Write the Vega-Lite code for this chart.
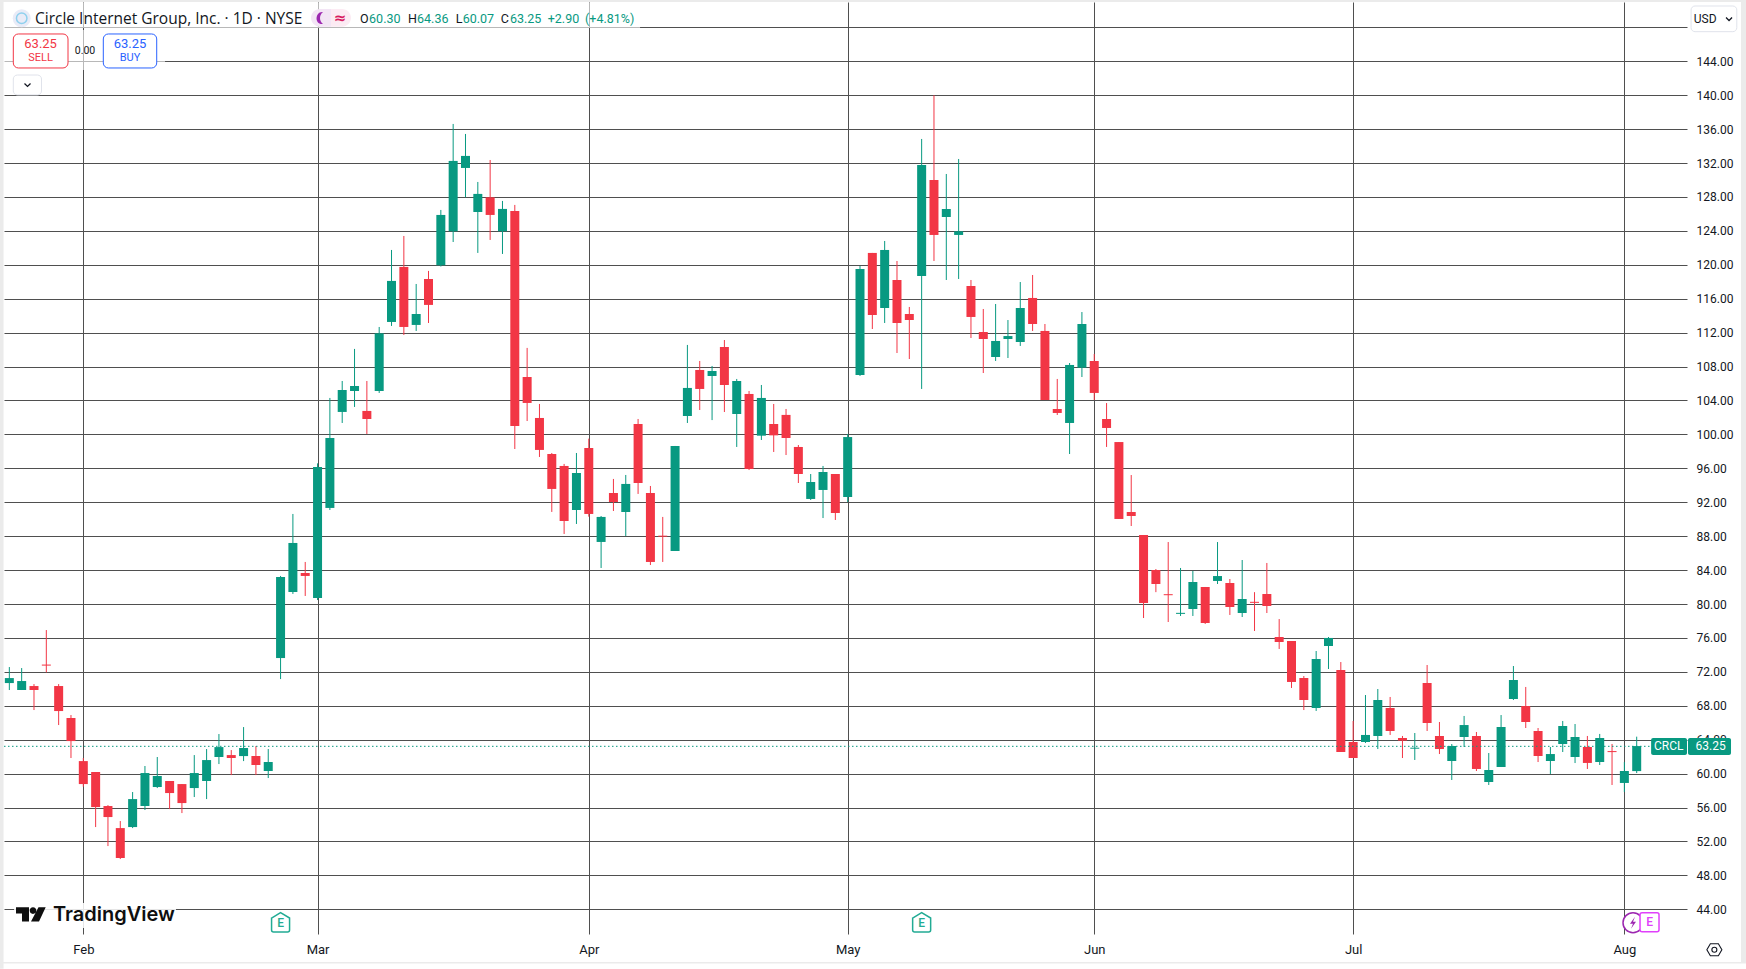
{
  "$schema": "https://vega.github.io/schema/vega-lite/v6.json",
  "description": "Circle Internet Group daily candles on NYSE",
  "width": 1683,
  "height": 932,
  "padding": {"left": 4, "top": 2, "right": 59, "bottom": 35},
  "autosize": "none",
  "background": "white",
  "view": {"stroke": null},
  "datasets": {
    "candles": [
      {"bar":-6,"open":70.68,"high":72.57,"low":69.86,"close":71.27},
      {"bar":-5,"open":69.86,"high":72.45,"low":69.86,"close":70.92},
      {"bar":-4,"open":70.33,"high":70.56,"low":67.5,"close":69.86},
      {"bar":-3,"open":72.86,"high":76.93,"low":71.94,"close":72.74},
      {"bar":-2,"open":70.33,"high":70.56,"low":65.73,"close":67.38},
      {"bar":-1,"open":66.56,"high":66.91,"low":61.84,"close":63.84},
      {"bar":0,"open":61.48,"high":61.84,"low":58.46,"close":58.77},
      {"bar":1,"open":60.19,"high":60.19,"low":53.7,"close":56.06},
      {"bar":2,"open":56.18,"high":56.29,"low":51.46,"close":54.88},
      {"bar":3,"open":53.58,"high":54.41,"low":49.93,"close":50.05},
      {"bar":4,"open":53.7,"high":57.83,"low":53.58,"close":57.0},
      {"bar":5,"open":56.18,"high":60.9,"low":55.71,"close":60.07},
      {"bar":6,"open":58.42,"high":61.96,"low":58.3,"close":59.72},
      {"bar":7,"open":59.13,"high":59.13,"low":55.82,"close":57.71},
      {"bar":8,"open":58.77,"high":58.77,"low":55.35,"close":56.53},
      {"bar":9,"open":58.3,"high":62.19,"low":57.24,"close":60.07},
      {"bar":10,"open":59.13,"high":62.9,"low":57.0,"close":61.6},
      {"bar":11,"open":61.96,"high":64.67,"low":61.13,"close":63.13},
      {"bar":12,"open":62.19,"high":62.78,"low":59.83,"close":61.84},
      {"bar":13,"open":62.07,"high":65.49,"low":61.48,"close":63.02},
      {"bar":14,"open":62.07,"high":63.25,"low":59.83,"close":61.01},
      {"bar":15,"open":60.31,"high":62.9,"low":59.48,"close":61.37},
      {"bar":16,"open":73.63,"high":83.31,"low":71.15,"close":83.19},
      {"bar":17,"open":81.42,"high":90.62,"low":81.19,"close":87.2},
      {"bar":18,"open":83.66,"high":84.96,"low":80.95,"close":83.31},
      {"bar":19,"open":80.71,"high":96.59,"low":80.47,"close":96.16},
      {"bar":20,"open":91.33,"high":104.3,"low":91.09,"close":99.58},
      {"bar":21,"open":102.65,"high":106.3,"low":101.35,"close":105.24},
      {"bar":22,"open":105.12,"high":110.08,"low":103.24,"close":105.71},
      {"bar":23,"open":102.77,"high":106.3,"low":100.05,"close":101.82},
      {"bar":24,"open":105.12,"high":112.67,"low":104.89,"close":111.92},
      {"bar":25,"open":113.26,"high":121.75,"low":112.79,"close":118.1},
      {"bar":26,"open":119.75,"high":123.4,"low":111.73,"close":112.67},
      {"bar":27,"open":112.91,"high":117.74,"low":112.2,"close":114.2},
      {"bar":28,"open":118.33,"high":119.28,"low":113.14,"close":115.27},
      {"bar":29,"open":119.94,"high":126.47,"low":119.8,"close":125.88},
      {"bar":30,"open":123.95,"high":136.61,"low":122.69,"close":132.25},
      {"bar":31,"open":131.42,"high":135.43,"low":127.96,"close":132.84},
      {"bar":32,"open":126.23,"high":129.77,"low":121.4,"close":128.36},
      {"bar":33,"open":127.96,"high":132.36,"low":122.93,"close":125.88},
      {"bar":34,"open":123.95,"high":127.53,"low":121.28,"close":126.59},
      {"bar":35,"open":126.35,"high":127.06,"low":98.28,"close":100.98},
      {"bar":36,"open":106.77,"high":110.2,"low":101.58,"close":103.71},
      {"bar":37,"open":101.94,"high":103.59,"low":97.34,"close":98.17},
      {"bar":38,"open":97.69,"high":97.81,"low":90.86,"close":93.57},
      {"bar":39,"open":96.28,"high":96.52,"low":88.26,"close":89.79},
      {"bar":40,"open":91.09,"high":97.81,"low":89.44,"close":95.45},
      {"bar":41,"open":98.4,"high":99.5,"low":90.3,"close":90.62},
      {"bar":42,"open":87.32,"high":90.38,"low":84.25,"close":90.27},
      {"bar":43,"open":93.09,"high":94.75,"low":90.97,"close":92.03},
      {"bar":44,"open":90.85,"high":95.22,"low":88.02,"close":94.16},
      {"bar":45,"open":101.23,"high":101.82,"low":92.98,"close":94.27},
      {"bar":46,"open":93.09,"high":93.92,"low":84.6,"close":84.96},
      {"bar":47,"open":88.06,"high":90.27,"low":84.96,"close":87.94},
      {"bar":48,"open":86.26,"high":98.64,"low":86.26,"close":98.64},
      {"bar":49,"open":102.17,"high":110.55,"low":101.35,"close":105.48},
      {"bar":50,"open":107.6,"high":108.66,"low":102.88,"close":105.36},
      {"bar":51,"open":106.89,"high":108.07,"low":101.69,"close":107.48},
      {"bar":52,"open":110.31,"high":111.13,"low":102.64,"close":105.83},
      {"bar":53,"open":102.41,"high":106.54,"low":98.52,"close":106.3},
      {"bar":54,"open":104.77,"high":105.12,"low":95.8,"close":95.92},
      {"bar":55,"open":99.85,"high":105.83,"low":99.34,"close":104.3},
      {"bar":56,"open":101.23,"high":103.59,"low":97.93,"close":99.89},
      {"bar":57,"open":102.3,"high":103.0,"low":97.57,"close":99.58},
      {"bar":58,"open":98.52,"high":98.75,"low":94.27,"close":95.33},
      {"bar":59,"open":92.39,"high":95.33,"low":92.27,"close":94.39},
      {"bar":60,"open":93.45,"high":96.28,"low":90.14,"close":95.57},
      {"bar":61,"open":95.33,"high":95.33,"low":89.91,"close":90.73},
      {"bar":62,"open":92.62,"high":100.05,"low":92.03,"close":99.69},
      {"bar":63,"open":107.0,"high":119.86,"low":106.89,"close":119.51},
      {"bar":64,"open":121.4,"high":121.4,"low":112.43,"close":114.08},
      {"bar":65,"open":114.91,"high":122.81,"low":113.14,"close":121.75},
      {"bar":66,"open":118.21,"high":120.45,"low":109.6,"close":113.14},
      {"bar":67,"open":114.2,"high":115.03,"low":108.89,"close":113.49},
      {"bar":68,"open":118.68,"high":134.84,"low":105.36,"close":131.77},
      {"bar":69,"open":130.0,"high":139.99,"low":120.45,"close":123.52},
      {"bar":70,"open":125.64,"high":130.71,"low":118.21,"close":126.58},
      {"bar":71,"open":123.52,"high":132.48,"low":118.33,"close":123.95},
      {"bar":72,"open":117.5,"high":118.21,"low":111.37,"close":113.85},
      {"bar":73,"open":112.08,"high":114.79,"low":107.24,"close":111.25},
      {"bar":74,"open":109.13,"high":115.38,"low":108.66,"close":111.02},
      {"bar":75,"open":111.25,"high":113.49,"low":109.01,"close":111.6},
      {"bar":76,"open":110.9,"high":117.97,"low":110.43,"close":114.91},
      {"bar":77,"open":116.09,"high":118.8,"low":112.2,"close":113.02},
      {"bar":78,"open":112.2,"high":113.02,"low":104.06,"close":104.06},
      {"bar":79,"open":103.0,"high":106.54,"low":102.29,"close":102.53},
      {"bar":80,"open":101.35,"high":108.42,"low":97.69,"close":108.19},
      {"bar":81,"open":107.87,"high":114.43,"low":106.77,"close":113.02},
      {"bar":82,"open":108.66,"high":109.48,"low":104.06,"close":104.89},
      {"bar":83,"open":101.82,"high":103.7,"low":98.52,"close":100.76},
      {"bar":84,"open":99.1,"high":99.1,"low":90.03,"close":90.03},
      {"bar":85,"open":90.85,"high":95.21,"low":89.2,"close":90.38},
      {"bar":86,"open":88.14,"high":88.14,"low":78.35,"close":80.12},
      {"bar":87,"open":84.01,"high":84.13,"low":81.4,"close":82.36},
      {"bar":88,"open":81.16,"high":87.31,"low":77.88,"close":81.04},
      {"bar":89,"open":78.84,"high":84.25,"low":78.59,"close":78.96},
      {"bar":90,"open":79.41,"high":83.9,"low":78.59,"close":82.6},
      {"bar":91,"open":82.01,"high":82.01,"low":77.65,"close":77.76},
      {"bar":92,"open":82.72,"high":87.31,"low":82.36,"close":83.3},
      {"bar":93,"open":82.48,"high":82.95,"low":78.71,"close":79.65},
      {"bar":94,"open":78.94,"high":85.19,"low":78.47,"close":80.59},
      {"bar":95,"open":80.26,"high":81.4,"low":76.82,"close":80.14},
      {"bar":96,"open":81.18,"high":84.84,"low":78.94,"close":79.77},
      {"bar":97,"open":76.11,"high":78.23,"low":74.7,"close":75.52},
      {"bar":98,"open":75.64,"high":75.64,"low":70.1,"close":70.81},
      {"bar":99,"open":71.28,"high":71.51,"low":67.5,"close":68.68},
      {"bar":100,"open":67.74,"high":74.46,"low":67.39,"close":73.52},
      {"bar":101,"open":75.05,"high":76.11,"low":72.34,"close":76.0},
      {"bar":102,"open":72.22,"high":73.16,"low":62.55,"close":62.55},
      {"bar":103,"open":63.73,"high":66.21,"low":61.84,"close":61.84},
      {"bar":104,"open":63.73,"high":69.27,"low":63.61,"close":64.56},
      {"bar":105,"open":64.44,"high":69.98,"low":62.9,"close":68.68},
      {"bar":106,"open":67.74,"high":69.04,"low":64.56,"close":65.03},
      {"bar":107,"open":64.2,"high":64.44,"low":61.84,"close":63.89},
      {"bar":108,"open":62.94,"high":64.79,"low":61.61,"close":63.06},
      {"bar":109,"open":70.69,"high":72.81,"low":65.03,"close":65.97},
      {"bar":110,"open":64.44,"high":66.09,"low":62.31,"close":62.9},
      {"bar":111,"open":61.49,"high":63.49,"low":59.25,"close":63.26},
      {"bar":112,"open":64.32,"high":66.8,"low":63.14,"close":65.73},
      {"bar":113,"open":64.44,"high":64.91,"low":60.31,"close":60.55},
      {"bar":114,"open":59.01,"high":62.43,"low":58.66,"close":60.43},
      {"bar":115,"open":60.78,"high":66.91,"low":60.78,"close":65.5},
      {"bar":116,"open":68.8,"high":72.69,"low":68.68,"close":71.04},
      {"bar":117,"open":67.97,"high":70.22,"low":65.38,"close":66.09},
      {"bar":118,"open":65.03,"high":65.38,"low":61.37,"close":62.08},
      {"bar":119,"open":61.49,"high":63.14,"low":59.96,"close":62.31},
      {"bar":120,"open":63.49,"high":66.21,"low":62.55,"close":65.62},
      {"bar":121,"open":61.96,"high":65.85,"low":61.25,"close":64.32},
      {"bar":122,"open":63.14,"high":64.44,"low":60.55,"close":61.26},
      {"bar":123,"open":61.37,"high":64.68,"low":61.02,"close":64.2},
      {"bar":124,"open":62.66,"high":63.5,"low":58.66,"close":62.54},
      {"bar":125,"open":58.9,"high":61.37,"low":57.84,"close":60.31},
      {"bar":126,"open":60.3,"high":64.36,"low":60.07,"close":63.25}
    ]
  },
  "encoding": {
    "x": {
      "field": "bar",
      "type": "quantitative",
      "scale": {"domain": [-6.433, 130.08], "nice": false, "zero": false, "padding": 0},
      "axis": {
        "title": null,
        "values": [0, 19, 41, 62, 82, 103, 125],
        "labelExpr": "datum.value==0?'Feb':datum.value==19?'Mar':datum.value==41?'Apr':datum.value==62?'May':datum.value==82?'Jun':datum.value==103?'Jul':'Aug'",
        "grid": true,
        "gridColor": "#4f4f4f",
        "gridWidth": 1,
        "ticks": false,
        "domain": false,
        "labelPadding": 9,
        "labelFont": "Roboto",
        "labelFontSize": 13,
        "labelColor": "#131722"
      }
    },
    "y": {
      "field": "price",
      "type": "quantitative",
      "scale": {"domain": [41.09, 150.99], "nice": false, "zero": false},
      "axis": {
        "title": null,
        "orient": "right",
        "values": [44,48,52,56,60,64,68,72,76,80,84,88,92,96,100,104,108,112,116,120,124,128,132,136,140,144,148],
        "labelExpr": "datum.value==148?'':format(datum.value,'.2f')",
        "grid": true,
        "gridColor": "#4f4f4f",
        "gridWidth": 1,
        "ticks": false,
        "domain": false,
        "labelPadding": 9,
        "labelFont": "Roboto",
        "labelFontSize": 12,
        "labelColor": "#131722"
      }
    }
  },
  "layer": [
    {
      "data": {"values": [
        {"bar": -6.757, "bar2": -6.47, "price": 37.0, "price2": 151.23},
        {"bar": -6.757, "bar2": 134.87, "price": 150.99, "price2": 151.23},
        {"bar": 134.46, "bar2": 134.87, "price": 37.79, "price2": 151.23},
        {"bar": -6.757, "bar2": 134.87, "price": 37.6, "price2": 37.79}
      ]},
      "mark": {"type": "rect", "fill": "#ebebeb", "clip": false},
      "encoding": {"x2": {"field": "bar2"}, "y2": {"field": "price2"}}
    },
    {
      "data": {"name": "candles"},
      "mark": {"type": "rule", "strokeWidth": 1},
      "encoding": {
        "y": {"field": "low", "type": "quantitative"},
        "y2": {"field": "high"},
        "color": {"condition": {"test": "datum.close>=datum.open", "value": "#089981"}, "value": "#f23645"}
      }
    },
    {
      "data": {"name": "candles"},
      "mark": {"type": "bar", "orient": "vertical", "size": 9},
      "encoding": {
        "y": {"field": "open", "type": "quantitative"},
        "y2": {"field": "close"},
        "color": {"condition": {"test": "datum.close>=datum.open", "value": "#089981"}, "value": "#f23645"}
      }
    },
    {
      "data": {"values": [{"bar": -6.433, "bar2": 127.17, "price": 63.22}]},
      "mark": {"type": "rule", "color": "#089981", "strokeWidth": 1, "strokeDash": [1.5, 2.5]},
      "encoding": {"x2": {"field": "bar2"}}
    },
    {
      "data": {"values": [
        {"bar": -6.433, "bar2": 45.16, "price": 147.93, "price2": 150.87},
        {"bar": -6.433, "bar2": 6.63, "price": 142.97, "price2": 147.69}
      ]},
      "mark": {"type": "rect", "fill": "white", "opacity": 0.6},
      "encoding": {"x2": {"field": "bar2"}, "y2": {"field": "price2"}}
    },
    {
      "data": {"values": [{"bar": -5.62, "bar2": 7.52, "price": 41.8, "price2": 44.75}]},
      "mark": {"type": "rect", "fill": "white", "opacity": 0.85},
      "encoding": {"x2": {"field": "bar2"}, "y2": {"field": "price2"}}
    },
    {
      "data": {"values": [{"bar": -5.678, "bar2": -1.241, "price": 143.21, "price2": 147.22}]},
      "mark": {"type": "rect", "fill": "white", "stroke": "#f23645", "strokeWidth": 1, "cornerRadius": 5},
      "encoding": {"x2": {"field": "bar2"}, "y2": {"field": "price2"}}
    },
    {
      "data": {"values": [{"bar": 1.622, "bar2": 5.954, "price": 143.21, "price2": 147.22}]},
      "mark": {"type": "rect", "fill": "white", "stroke": "#2962ff", "strokeWidth": 1, "cornerRadius": 5},
      "encoding": {"x2": {"field": "bar2"}, "y2": {"field": "price2"}}
    },
    {
      "data": {"values": [
        {"bar": -5.678, "bar2": -3.391, "price": 140.03, "price2": 142.38},
        {"bar": 130.41, "bar2": 134.12, "price": 147.49, "price2": 150.52}
      ]},
      "mark": {"type": "rect", "fill": "white", "stroke": "#e0e3eb", "strokeWidth": 1, "cornerRadius": 4},
      "encoding": {"x2": {"field": "bar2"}, "y2": {"field": "price2"}}
    },
    {
      "data": {"values": [{"bar": 18.47, "bar2": 20.09, "price": 148.08, "price2": 150.17}]},
      "mark": {"type": "rect", "fill": "#f3e5f5", "cornerRadiusTopLeft": 9, "cornerRadiusBottomLeft": 9},
      "encoding": {"x2": {"field": "bar2"}, "y2": {"field": "price2"}}
    },
    {
      "data": {"values": [{"bar": 20.09, "bar2": 21.71, "price": 148.08, "price2": 150.17}]},
      "mark": {"type": "rect", "fill": "#fcebf3", "cornerRadiusTopRight": 9, "cornerRadiusBottomRight": 9},
      "encoding": {"x2": {"field": "bar2"}, "y2": {"field": "price2"}}
    },
    {
      "data": {"values": [{"bar": 127.17, "bar2": 130.08, "price": 62.2, "price2": 64.2}, {"bar": 130.16, "bar2": 133.65, "price": 62.2, "price2": 64.2}]},
      "mark": {"type": "rect", "fill": "#089981", "cornerRadius": 2},
      "encoding": {"x2": {"field": "bar2"}, "y2": {"field": "price2"}}
    },
    {
      "data": {"values": [{"bar": -4.997, "price": 149.07}]},
      "mark": {"type": "point", "shape": "circle", "size": 324, "filled": true, "color": "#e9ebf7", "opacity": 1}
    },
    {
      "data": {"values": [{"bar": -4.997, "price": 149.07}]},
      "mark": {"type": "point", "shape": "circle", "size": 110, "filled": false, "color": "#8fd0ee", "strokeWidth": 1.5, "opacity": 1}
    },
    {
      "data": {"values": [{"bar": 19.28, "price": 149.1}]},
      "mark": {"type": "point", "shape": "M2,-6 C-6,-7 -7,7 2,6 C-2,3 -2,-3 2,-6 Z", "size": 4, "filled": true, "color": "#9c27b0", "opacity": 1}
    },
    {
      "data": {"values": [{"bar": -4.526, "price": 141.21}, {"bar": 133.49, "price": 148.99}]},
      "mark": {"type": "point", "shape": "M-3,-1.5 L0,1.5 L3,-1.5", "size": 4, "filled": false, "color": "#131722", "strokeWidth": 1.3, "opacity": 1}
    },
    {
      "data": {"values": [{"bar": -4.243, "price": 43.38}]},
      "mark": {"type": "point", "shape": "M-15,-7.3 H-2 V7 H-9 V-1 H-15 Z M2,-7.3 C4,-7.3 5.3,-6 5.3,-4 C5.3,-2 4,-0.7 2,-0.7 C0,-0.7 -1.3,-2 -1.3,-4 C-1.3,-6 0,-7.3 2,-7.3 Z M7.5,-7.3 H14.7 L8,7 H0 Z", "size": 4, "filled": true, "color": "#0f0f0f", "opacity": 1}
    },
    {
      "data": {"values": [{"bar": 16, "price": 42.5}, {"bar": 68, "price": 42.5}]},
      "mark": {"type": "point", "shape": "M-9,-4 L0,-9.5 L9,-4 V8 Q9,10 7,10 H-7 Q-9,10 -9,8 Z", "size": 4, "fill": "white", "filled": true, "stroke": "#22ab94", "strokeWidth": 1.5, "opacity": 1}
    },
    {
      "data": {"values": [{"bar": 125.7, "price": 42.42}]},
      "mark": {"type": "point", "shape": "circle", "size": 400, "fill": "white", "filled": true, "stroke": "#9c27b0", "strokeWidth": 1.5, "opacity": 1}
    },
    {
      "data": {"values": [{"bar": 125.7, "price": 42.42}]},
      "mark": {"type": "point", "shape": "M2,-6 L-3,1 H0 L-2,6 L3,-1 H0 Z", "size": 4, "filled": true, "color": "#9c27b0", "opacity": 1}
    },
    {
      "data": {"values": [{"bar": 126.27, "bar2": 127.81, "price": 41.36, "price2": 43.6}]},
      "mark": {"type": "rect", "fill": "white", "stroke": "#e040fb", "strokeWidth": 1.5, "cornerRadius": 2},
      "encoding": {"x2": {"field": "bar2"}, "y2": {"field": "price2"}}
    },
    {
      "data": {"values": [{"bar": 132.3, "price": 39.24}]},
      "mark": {"type": "point", "shape": "M-7.5,0 L-4,-6 H4 L7.5,0 L4,6 H-4 Z", "size": 4, "filled": false, "color": "#131722", "strokeWidth": 1.1, "opacity": 1}
    },
    {
      "data": {"values": [{"bar": 132.3, "price": 39.24}]},
      "mark": {"type": "point", "shape": "circle", "size": 25, "filled": false, "color": "#131722", "strokeWidth": 1.1, "opacity": 1}
    },
    {
      "data": {"values": [{"bar": -3.918, "price": 148.99, "label": "Circle Internet Group, Inc. · 1D · NYSE"}]},
      "mark": {"type": "text", "align": "left", "baseline": "middle", "font": "Open Sans", "fontSize": 15.5, "color": "#131722"},
      "encoding": {"text": {"field": "label"}}
    },
    {
      "data": {"values": [
        {"bar": 22.44, "price": 148.99, "label": "O"},
        {"bar": 26.34, "price": 148.99, "label": "H"},
        {"bar": 30.21, "price": 148.99, "label": "L"},
        {"bar": 33.86, "price": 148.99, "label": "C"}
      ]},
      "mark": {"type": "text", "align": "left", "baseline": "middle", "font": "Roboto", "fontSize": 12.5, "color": "#131722"},
      "encoding": {"text": {"field": "label"}}
    },
    {
      "data": {"values": [
        {"bar": 23.18, "price": 148.99, "label": "60.30"},
        {"bar": 27.07, "price": 148.99, "label": "64.36"},
        {"bar": 30.77, "price": 148.99, "label": "60.07"},
        {"bar": 34.61, "price": 148.99, "label": "63.25"},
        {"bar": 37.67, "price": 148.99, "label": "+2.90"},
        {"bar": 40.7, "price": 148.99, "label": "(+4.81%)"}
      ]},
      "mark": {"type": "text", "align": "left", "baseline": "middle", "font": "Roboto", "fontSize": 12.5, "color": "#089981"},
      "encoding": {"text": {"field": "label"}}
    },
    {
      "data": {"values": [{"bar": 20.82, "price": 149.1, "label": "≈"}]},
      "mark": {"type": "text", "align": "center", "baseline": "middle", "font": "DejaVu Sans", "fontSize": 15, "fontWeight": "bold", "color": "#d81b60"},
      "encoding": {"text": {"field": "label"}}
    },
    {
      "data": {"values": [{"bar": -3.464, "price": 146.04, "label": "63.25"}]},
      "mark": {"type": "text", "align": "center", "baseline": "middle", "font": "Roboto", "fontSize": 13, "color": "#f23645"},
      "encoding": {"text": {"field": "label"}}
    },
    {
      "data": {"values": [{"bar": -3.464, "price": 144.42, "label": "SELL"}]},
      "mark": {"type": "text", "align": "center", "baseline": "middle", "font": "Roboto", "fontSize": 11, "color": "#f23645"},
      "encoding": {"text": {"field": "label"}}
    },
    {
      "data": {"values": [{"bar": 3.788, "price": 146.04, "label": "63.25"}]},
      "mark": {"type": "text", "align": "center", "baseline": "middle", "font": "Roboto", "fontSize": 13, "color": "#2962ff"},
      "encoding": {"text": {"field": "label"}}
    },
    {
      "data": {"values": [{"bar": 3.788, "price": 144.42, "label": "BUY"}]},
      "mark": {"type": "text", "align": "center", "baseline": "middle", "font": "Roboto", "fontSize": 11, "color": "#2962ff"},
      "encoding": {"text": {"field": "label"}}
    },
    {
      "data": {"values": [{"bar": 0.138, "price": 145.25, "label": "0.00"}]},
      "mark": {"type": "text", "align": "center", "baseline": "middle", "font": "Roboto", "fontSize": 10.5, "color": "#131722"},
      "encoding": {"text": {"field": "label"}}
    },
    {
      "data": {"values": [{"bar": 131.55, "price": 148.99, "label": "USD"}]},
      "mark": {"type": "text", "align": "center", "baseline": "middle", "font": "Roboto", "fontSize": 12, "color": "#131722"},
      "encoding": {"text": {"field": "label"}}
    },
    {
      "data": {"values": [
        {"bar": 128.6, "price": 63.2, "label": "CRCL"},
        {"bar": 132.0, "price": 63.2, "label": "63.25"}
      ]},
      "mark": {"type": "text", "align": "center", "baseline": "middle", "font": "Roboto", "fontSize": 12, "color": "white"},
      "encoding": {"text": {"field": "label"}}
    },
    {
      "data": {"values": [{"bar": -2.458, "price": 43.38, "label": "TradingView"}]},
      "mark": {"type": "text", "align": "left", "baseline": "middle", "font": "Inter", "fontSize": 20, "fontWeight": 600, "color": "#0f0f0f"},
      "encoding": {"text": {"field": "label"}}
    },
    {
      "data": {"values": [{"bar": 16, "price": 42.4, "label": "E"}, {"bar": 68, "price": 42.4, "label": "E"}]},
      "mark": {"type": "text", "align": "center", "baseline": "middle", "font": "Roboto", "fontSize": 12, "fontWeight": 500, "color": "#22ab94"},
      "encoding": {"text": {"field": "label"}}
    },
    {
      "data": {"values": [{"bar": 127.04, "price": 42.45, "label": "E"}]},
      "mark": {"type": "text", "align": "center", "baseline": "middle", "font": "Roboto", "fontSize": 12, "fontWeight": 500, "color": "#e040fb"},
      "encoding": {"text": {"field": "label"}}
    }
  ]
}
